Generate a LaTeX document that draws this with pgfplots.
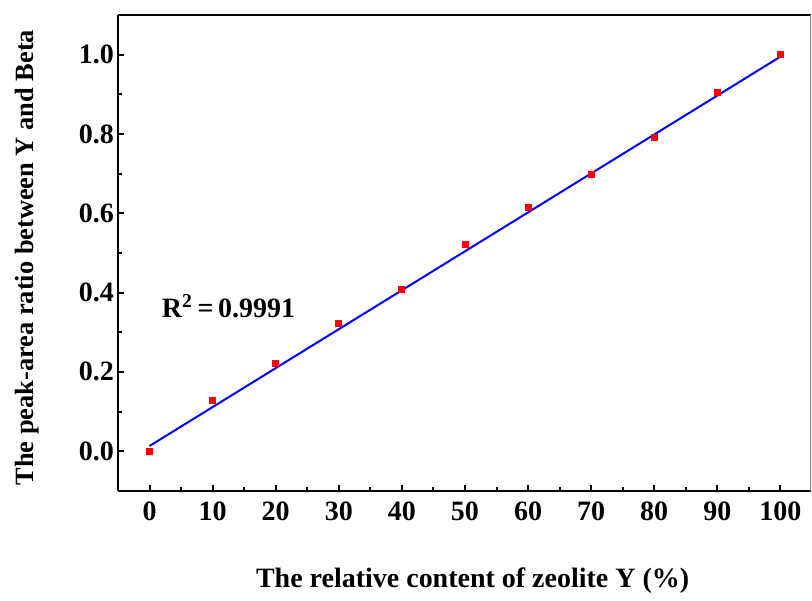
\documentclass[border=0pt]{standalone}
\usepackage{fontspec}
\setmainfont{Liberation Serif}
\usepackage{pgfplots}
\pgfplotsset{compat=1.18}
\begin{document}
\begin{tikzpicture}
\begin{axis}[
  scale only axis,
  width=346.5pt, height=238pt,
  xmin=-5, xmax=104.8, ymin=-0.1, ymax=1.1,
  axis x line*=bottom, axis y line*=left,
  axis line style={line width=1.3pt, -},
  xtick={0,10,...,100},
  ytick={0,0.2,...,1.0},
  minor x tick num=1, minor y tick num=1,
  tick align=inside,
  major tick length=3pt, minor tick length=2pt,
  every tick/.style={black, line width=1pt},
  /pgf/number format/assume math mode=true,
  yticklabel style={/pgf/number format/fixed, /pgf/number format/precision=1, /pgf/number format/fixed zerofill, xshift=1.5pt},
  ticklabel style={font=\fontsize{14}{16}\selectfont\bfseries},
  xticklabel style={yshift=-2pt},
  xlabel={The relative content of zeolite Y (\%)},
  ylabel={The peak-area ratio between Y and Beta},
  xlabel style={font=\fontsize{14}{16}\selectfont\bfseries, at={([yshift=-48.5pt]rel axis cs:0.512,0)}, anchor=base},
  ylabel style={font=\fontsize{13.2}{16}\selectfont\bfseries, at={([xshift=-36pt]rel axis cs:0,0.49)}, anchor=south, rotate=0},
  clip=false,
]
\addplot[blue, line width=1pt] coordinates {(0,0.013) (100,0.995)};
\addplot[only marks, mark=square*, mark size=1.5pt, color=red] coordinates {
(0,0.0) (10,0.128) (20,0.221) (30,0.322) (40,0.408) (50,0.521)
(60,0.614) (70,0.697) (80,0.792) (90,0.906) (100,1.0)};
\node[anchor=west, font=\fontsize{14}{16}\selectfont\bfseries, inner sep=0pt] at (axis cs:1.9,0.365) {R$^{\mathbf{2}}$\,=\,0.9991};
\draw[line width=1.3pt] (rel axis cs:0,1) -- (rel axis cs:1,1);
\draw[gray, line width=0.4pt] (rel axis cs:1,0) -- (rel axis cs:1,1);
\path (rel axis cs:0,0) ++(-59pt,-51pt) coordinate (bb1);
\path (rel axis cs:1,1) ++(0.5pt,7.5pt) coordinate (bb2);
\path (bb1) rectangle (bb2);
\end{axis}
\end{tikzpicture}
\end{document}
